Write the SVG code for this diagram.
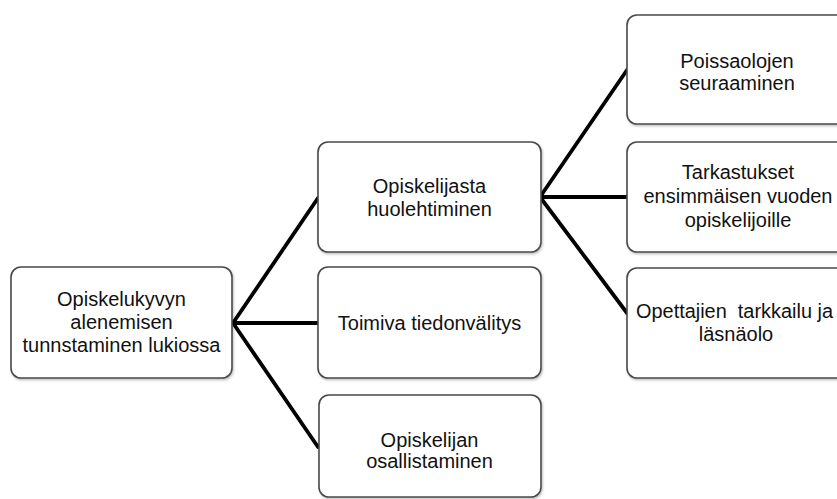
<svg xmlns="http://www.w3.org/2000/svg" width="837" height="499" viewBox="0 0 837 499">
<style>
.box{fill:#fff;stroke:#4a4a4a;stroke-width:1.6;filter:url(#sh)}
.t{font-family:"Liberation Sans",Arial,sans-serif;font-size:20px;fill:#111;text-anchor:middle;white-space:pre}
.c{stroke:#000;stroke-width:3.8;fill:none;stroke-linecap:round}
</style>
<defs>
<filter id="sh" x="-5%" y="-5%" width="115%" height="115%">
<feDropShadow dx="1" dy="1.5" stdDeviation="1" flood-color="#000" flood-opacity="0.25"/>
</filter>
</defs>
<rect width="837" height="499" fill="#fff"/>
<g id="connectors">
<line class="c" x1="233" y1="323" x2="318" y2="198"/>
<line class="c" x1="233" y1="323" x2="318" y2="323"/>
<line class="c" x1="233" y1="323" x2="318" y2="447"/>
<line class="c" x1="540" y1="197" x2="627" y2="70"/>
<line class="c" x1="540" y1="197" x2="627" y2="197"/>
<line class="c" x1="540" y1="197" x2="627" y2="313"/>
</g>
<g id="root">
<rect class="box" x="11" y="267" width="221" height="111" rx="10"/>
<text class="t" x="121.5" y="306">Opiskelukyvyn</text>
<text class="t" x="121.5" y="329">alenemisen</text>
<text class="t" x="121.5" y="352">tunnstaminen lukiossa</text>
</g>
<g id="mid1">
<rect class="box" x="318" y="142" width="223" height="110" rx="10"/>
<text class="t" x="429.5" y="193">Opiskelijasta</text>
<text class="t" x="429.5" y="216">huolehtiminen</text>
</g>
<g id="mid2">
<rect class="box" x="318" y="267" width="223" height="111" rx="10"/>
<text class="t" x="429.5" y="330">Toimiva tiedonvälitys</text>
</g>
<g id="mid3">
<rect class="box" x="319" y="395" width="222" height="102" rx="10"/>
<text class="t" x="429.5" y="447">Opiskelijan</text>
<text class="t" x="429.5" y="468">osallistaminen</text>
</g>
<g id="right1">
<rect class="box" x="627" y="15" width="230" height="109" rx="10"/>
<text class="t" x="737" y="68">Poissaolojen</text>
<text class="t" x="737" y="90">seuraaminen</text>
</g>
<g id="right2">
<rect class="box" x="627" y="142" width="230" height="110" rx="10"/>
<text class="t" x="738" y="179">Tarkastukset</text>
<text class="t" x="738" y="203">ensimmäisen vuoden</text>
<text class="t" x="738" y="227">opiskelijoille</text>
</g>
<g id="right3">
<rect class="box" x="627" y="268" width="230" height="110" rx="10"/>
<text class="t" x="636" y="318" style="text-anchor:start" textLength="197" lengthAdjust="spacingAndGlyphs">Opettajien  tarkkailu ja</text>
<text class="t" x="736" y="341">läsnäolo</text>
</g>
</svg>
